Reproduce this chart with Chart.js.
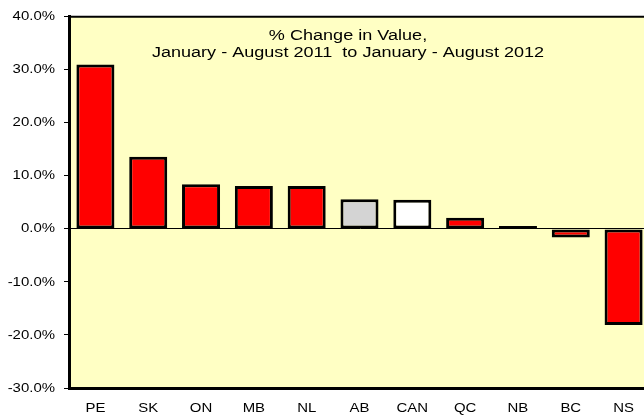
<!DOCTYPE html>
<html>
<head>
<meta charset="utf-8">
<script src="https://cdn.jsdelivr.net/npm/chart.js@4"></script>
<style>
html,body{margin:0;padding:0;background:#fff;overflow:hidden;}
#wrap{width:650px;height:418px;position:relative;}
</style>
</head>
<body>
<div id="wrap"><canvas id="c" width="650" height="418"></canvas></div>
<script>
const categories = ["PE","SK","ON","MB","NL","AB","CAN","QC","NB","BC","NS"];
const changeValues = [31.0, 13.6, 8.4, 8.1, 8.1, 5.6, 5.5, 2.1, 0.3, -1.6, -18.1];
const barColors = ["#FF0000","#FF0000","#FF0000","#FF0000","#FF0000","#D4D4D4","#FFFFFF","#FF0000","#FF0000","#FF0000","#FF0000"];
const yTickMin = -30, yTickMax = 40, yTickStep = 10;
const titleLines = ["% Change in Value,", "January - August 2011  to January - August 2012"];

const FONT = "'Liberation Sans', Arial, sans-serif";

// Horizontal text stretch to mimic the wide lettering of the reference
const canvas = document.getElementById('c');
const ctx2d = canvas.getContext('2d');
const origFillText = ctx2d.fillText;
let textStretch = 1.15;
ctx2d.fillText = function(text, x, y) {
  this.save();
  this.translate(x, y);
  this.scale(textStretch, 1);
  origFillText.call(this, text, 0, 0);
  this.restore();
};

const bgPlugin = {
  id: 'bg',
  beforeDraw(chart) {
    const {ctx, chartArea: a} = chart;
    ctx.save();
    ctx.fillStyle = '#FFFFC4';
    ctx.fillRect(a.left, a.top, a.right - a.left, a.bottom - a.top);
    ctx.restore();
  },
  afterDraw(chart) {
    const {ctx, chartArea: a} = chart;
    ctx.save();
    ctx.strokeStyle = '#000';
    ctx.lineWidth = 2;
    ctx.beginPath();
    ctx.moveTo(a.left, a.top);
    ctx.lineTo(a.right + 5, a.top);
    ctx.stroke();
    ctx.fillStyle = '#000';
    ctx.font = "14px " + FONT;
    ctx.textAlign = 'center';
    ctx.textBaseline = 'alphabetic';
    const prev = textStretch;
    textStretch = 1.29;
    ctx.fillText(titleLines[0], 348, 40);
    ctx.fillText(titleLines[1], 348, 57);
    textStretch = prev;
    ctx.restore();
  }
};

new Chart(canvas, {
  type: 'bar',
  data: {
    labels: categories,
    datasets: [{
      data: changeValues,
      backgroundColor: barColors,
      borderColor: '#000',
      borderWidth: 3,
      borderSkipped: false,
      minBarLength: 3,
      barPercentage: 0.72,
      categoryPercentage: 1.0
    }]
  },
  options: {
    responsive: false,
    animation: false,
    layout: {padding: {top: 16, right: 0, left: 0, bottom: 0}},
    plugins: {legend: {display: false}, tooltip: {enabled: false}, title: {display: false}},
    scales: {
      x: {
        grid: {display: false},
        border: {display: true, color: '#000', width: 3},
        ticks: {color: '#000', font: {family: FONT, size: 13}, padding: 5, maxRotation: 0},
        afterFit(s) { s.height = 30; }
      },
      y: {
        min: yTickMin, max: yTickMax,
        ticks: {stepSize: yTickStep, color: '#000', font: {family: FONT, size: 13}, padding: 9,
          callback: v => v.toFixed(1) + '%'},
        grid: {
          drawOnChartArea: true,
          color: ctx => (ctx.tick && ctx.tick.value === 0) ? '#000' : 'rgba(0,0,0,0)',
          tickColor: '#000',
          tickLength: 5,
          lineWidth: 1
        },
        border: {display: true, color: '#000', width: 3},
        afterFit(s) { s.width = 69; }
      }
    }
  },
  plugins: [bgPlugin]
});
</script>
</body>
</html>
